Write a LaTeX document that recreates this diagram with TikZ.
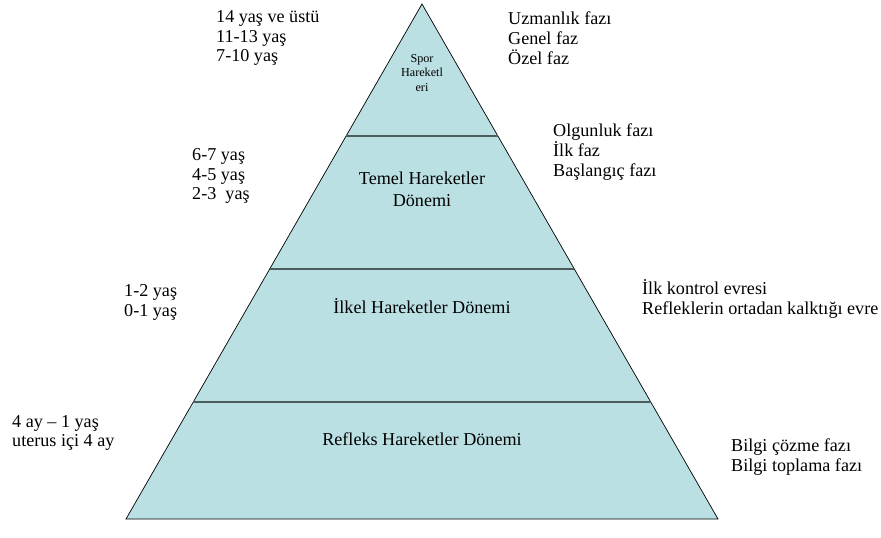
\documentclass[tikz,border=0pt]{standalone}
\usepackage{fontspec}
\setmainfont{Liberation Serif}
\usetikzlibrary{calc}
\definecolor{pyrfill}{HTML}{BBE0E3}
\definecolor{bandline}{HTML}{4A5C5C}
\tikzset{
  lbl/.style={anchor=west, align=left, inner sep=0pt, font=\fontsize{18.2}{20}\selectfont},
  inlbl/.style={align=center, inner sep=0pt, font=\fontsize{18.2}{22}\selectfont},
  smalllbl/.style={align=center, inner sep=0pt, font=\fontsize{12.2}{14.5}\selectfont},
  band/.style={draw=bandline, line width=2.4bp},
  pyr/.style={fill=pyrfill, draw=black, line width=0.7bp, line join=miter}
}
\begin{document}
\begin{tikzpicture}[x=1bp,y=-1bp]
\useasboundingbox (0,0) rectangle (881,538);
\fill[white] (0,0) rectangle (881,538);
% pyramid corners
\coordinate (apex) at (422,4);
\coordinate (bl) at (126,519);
\coordinate (br) at (718,519);
\draw[pyr] (apex) -- (br) -- (bl) -- cycle;
% band end points
\coordinate (l1) at ($(apex)!0.2563!(bl)$);
\coordinate (r1) at ($(apex)!0.2563!(br)$);
\coordinate (l2) at ($(apex)!0.5146!(bl)$);
\coordinate (r2) at ($(apex)!0.5146!(br)$);
\coordinate (l3) at ($(apex)!0.7728!(bl)$);
\coordinate (r3) at ($(apex)!0.7728!(br)$);
\draw[band] (l1) -- (r1);
\draw[band] (l2) -- (r2);
\draw[band] (l3) -- (r3);
% inner texts
\node[smalllbl] (spor) at (422,73) {Spor\\Hareketl\\eri};
\node[inlbl] (temel) at (422,189) {Temel Hareketler\\Dönemi};
\node[inlbl] (ilkel) at (422,306) {İlkel Hareketler Dönemi};
\node[inlbl] (refleks) at (422,439) {Refleks Hareketler Dönemi};
% left labels
\node[lbl] (ageA) at (216,38) {14 yaş ve üstü\\11-13 yaş\\7-10 yaş};
\node[lbl] (ageB) at (192,176) {6-7 yaş\\4-5 yaş\\2-3\ \ yaş};
\node[lbl] (ageC) at (124,302) {1-2 yaş\\0-1 yaş};
\node[lbl] (ageD) at (12,433) {4 ay – 1 yaş\\uterus içi 4 ay};
% right labels
\node[lbl] (phA) at (508,38) {Uzmanlık fazı\\Genel faz\\Özel faz};
\node[lbl] (phB) at (553,152) {Olgunluk fazı\\İlk faz\\Başlangıç fazı};
\node[lbl] (phC) at (642,299) {İlk kontrol evresi\\Refleklerin ortadan kalktığı evre};
\node[lbl] (phD) at (731,457) {Bilgi çözme fazı\\Bilgi toplama fazı};
\end{tikzpicture}
\end{document}
